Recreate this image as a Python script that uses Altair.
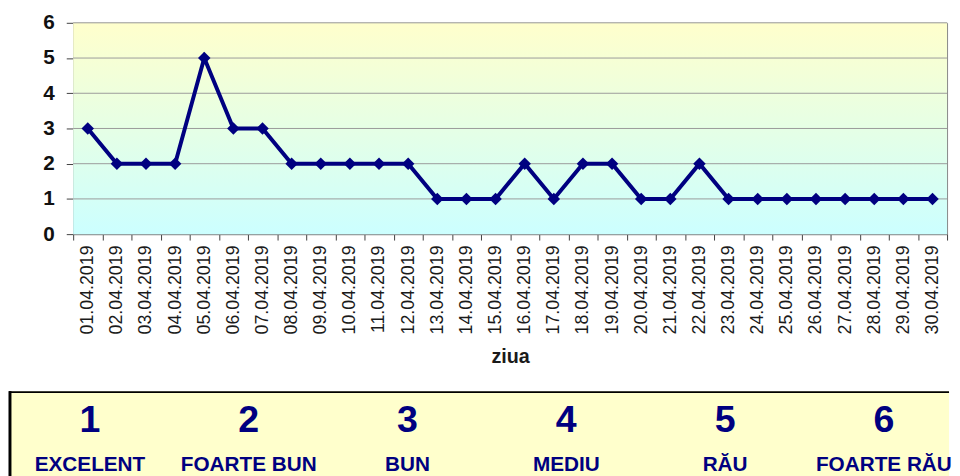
import altair as alt
import pandas as pd

days = ["01.04.2019", "02.04.2019", "03.04.2019", "04.04.2019", "05.04.2019",
        "06.04.2019", "07.04.2019", "08.04.2019", "09.04.2019", "10.04.2019",
        "11.04.2019", "12.04.2019", "13.04.2019", "14.04.2019", "15.04.2019",
        "16.04.2019", "17.04.2019", "18.04.2019", "19.04.2019", "20.04.2019",
        "21.04.2019", "22.04.2019", "23.04.2019", "24.04.2019", "25.04.2019",
        "26.04.2019", "27.04.2019", "28.04.2019", "29.04.2019", "30.04.2019"]
values = [3, 2, 2, 2, 5, 3, 3, 2, 2, 2, 2, 2, 1, 1, 1, 2, 1, 2, 2, 1,
          1, 2, 1, 1, 1, 1, 1, 1, 1, 1]
y_ticks = [0, 1, 2, 3, 4, 5, 6]
grid_levels = [1, 2, 3, 4, 5, 6]
levels = [1, 2, 3, 4, 5, 6]
level_names = ["EXCELENT", "FOARTE BUN", "BUN", "MEDIU", "RĂU", "FOARTE RĂU"]

FONT = "Liberation Sans"
NAVY = "#000080"
W, H = 885, 214

df = pd.DataFrame({"ziua": days, "v": values})
yscale = alt.Scale(domain=[0, 6], nice=False, zero=True)

xenc = alt.X(
    "ziua:N", sort=days,
    scale=alt.Scale(type="band", paddingInner=0, paddingOuter=0),
    axis=alt.Axis(title="ziua", labelAngle=-90, tickBand="extent", tickSize=6,
                  labelFontSize=18, labelPadding=5, labelColor="#1a1a1a",
                  titleFontSize=20, titleFontWeight="bold", titleColor="#1a1a1a",
                  titlePadding=13, domainColor="#808080", tickColor="#404040",
                  grid=False, labelFont=FONT, titleFont=FONT),
)
yaxis = alt.Axis(title=None, values=y_ticks, labelFontSize=21, labelFontWeight="bold",
                 labelColor="#111111", tickSize=7, labelPadding=12,
                 domainColor="#808080", tickColor="#404040", grid=False,
                 labelFont=FONT, labelOverlap=False)

gradient = alt.Gradient(
    gradient="linear",
    stops=[alt.GradientStop(color="#FFFFCC", offset=0),
           alt.GradientStop(color="#CCFFFF", offset=1)],
    x1=0, x2=0, y1=0, y2=1,
)

bg = alt.Chart(pd.DataFrame({"k": [0]})).mark_rect(fill=gradient).encode(
    x=alt.value(0), x2=alt.value(W),
    y=alt.Y("k:Q", scale=yscale, axis=yaxis, title=None), y2=alt.datum(6),
)
grid = alt.Chart(pd.DataFrame({"g": grid_levels})).mark_rule(
    color="#9a9a9a", strokeWidth=1
).encode(y=alt.Y("g:Q", scale=yscale, axis=yaxis, title=None))

line = alt.Chart(df).mark_line(
    color=NAVY, strokeWidth=4,
    point=alt.OverlayMarkDef(shape="diamond", size=160, filled=True, color=NAVY, opacity=1),
).encode(x=xenc, y=alt.Y("v:Q", scale=yscale, axis=yaxis, title=None))

top = alt.layer(bg, grid, line).properties(
    width=W, height=H,
    view=alt.ViewBackground(stroke="#808080", strokeWidth=1),
)

leg_df = pd.DataFrame({"level": levels, "name": level_names})
lx = alt.X("level:Q", scale=alt.Scale(domain=[1, 6], range=[17, 821]), axis=None)

box_df = pd.DataFrame({"k": [0]})
box = alt.Chart(box_df).mark_rect(fill="#FFFFCC").encode(
    x=alt.value(-65), x2=alt.value(887), y=alt.value(0), y2=alt.value(86)
)
top_line = alt.Chart(box_df).mark_rule(color="black", strokeWidth=2).encode(
    x=alt.value(-65), x2=alt.value(887), y=alt.value(1)
)
left_line = alt.Chart(box_df).mark_rule(color="black", strokeWidth=3).encode(
    x=alt.value(-64), y=alt.value(0), y2=alt.value(86)
)
digits = alt.Chart(leg_df).mark_text(
    fontSize=38, fontWeight="bold", color=NAVY, baseline="middle", font=FONT
).encode(x=lx, y=alt.value(30), text="level:N")
names = alt.Chart(leg_df).mark_text(
    fontSize=21, fontWeight="bold", color=NAVY, baseline="middle", font=FONT
).encode(x=lx, y=alt.value(75), text="name:N")

legend = alt.layer(box, top_line, left_line, digits, names).properties(
    width=W, height=86,
    view=alt.ViewBackground(stroke="transparent", strokeWidth=0),
)

chart = alt.vconcat(top, legend, spacing=22).properties(
    padding={"left": 0, "top": 0, "right": 0, "bottom": 0},
    background="white",
).configure(font=FONT)

chart.save("out.html", embed_options={"renderer": "svg", "actions": False})
